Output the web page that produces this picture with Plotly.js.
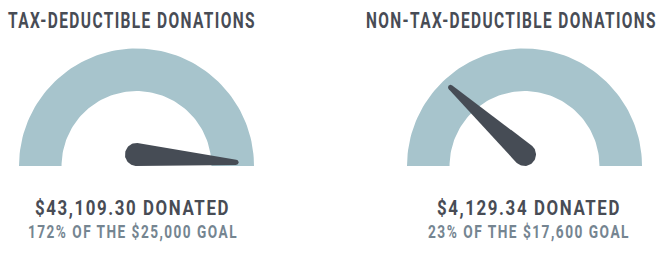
<!DOCTYPE html>
<html>
<head>
<meta charset="utf-8">
<script src="https://cdn.plot.ly/plotly-3.0.1.min.js"></script>
<style>
  html, body { margin: 0; padding: 0; background: #ffffff; }
  #chart { width: 663px; height: 253px; }
  .annotation-text { letter-spacing: 2px; }
</style>
</head>
<body>
<div id="chart"></div>
<script>
// ---- data ----
var gaugeTitles = ["TAX-DEDUCTIBLE DONATIONS", "NON-TAX-DEDUCTIBLE DONATIONS"];
var donated = [43109.30, 4129.34];
var goals = [25000, 17600];
var maxNeedleShare = 1.025; // needle stops just past the end of the dial

// ---- styling ----
var arcColor = "#a7c4cc";
var needleColor = "#464c55";
var titleColor = "#484c55";
var subColor = "#758591";
var FONT = "Roboto, 'DejaVu Sans', sans-serif";

var outerR = 1, innerR = 0.638;
var pivotY = 0.098, pivotR = 0.098, needleLen = 0.85, tipR = 0.022;

function fmtMoney(v, dec) {
  return "$" + v.toLocaleString("en-US", {minimumFractionDigits: dec, maximumFractionDigits: dec});
}

function arcTrace(xa, ya) {
  var xs = [], ys = [];
  var n = 90;
  for (var i = 0; i <= n; i++) {
    var a = Math.PI - Math.PI * i / n;
    xs.push(outerR * Math.cos(a)); ys.push(outerR * Math.sin(a));
  }
  for (var j = 0; j <= n; j++) {
    var b = Math.PI * j / n;
    xs.push(innerR * Math.cos(b)); ys.push(innerR * Math.sin(b));
  }
  return {x: xs, y: ys, xaxis: xa, yaxis: ya, type: "scatter", mode: "lines",
          fill: "toself", fillcolor: arcColor, line: {width: 0, color: arcColor},
          hoverinfo: "skip", showlegend: false};
}

function needleTrace(share, xa, ya) {
  var s = Math.min(share, maxNeedleShare);
  var th = Math.PI * (1 - s);
  var px = 0, py = pivotY;
  var tx = px + needleLen * Math.cos(th), ty = py + needleLen * Math.sin(th);
  var xs = [], ys = [];
  var n = 40;
  for (var i = 0; i <= n; i++) {
    var a = th + Math.PI / 2 + Math.PI * i / n;
    xs.push(px + pivotR * Math.cos(a)); ys.push(py + pivotR * Math.sin(a));
  }
  for (var k = 0; k <= n; k++) {
    var c = th - Math.PI / 2 + Math.PI * k / n;
    xs.push(tx + tipR * Math.cos(c)); ys.push(ty + tipR * Math.sin(c));
  }
  xs.push(xs[0]); ys.push(ys[0]);
  return {x: xs, y: ys, xaxis: xa, yaxis: ya, type: "scatter", mode: "lines",
          fill: "toself", fillcolor: needleColor, line: {width: 0, color: needleColor},
          hoverinfo: "skip", showlegend: false};
}

var shares = donated.map(function (d, i) { return d / goals[i]; });

var traces = [
  arcTrace("x", "y"), needleTrace(shares[0], "x", "y"),
  arcTrace("x2", "y2"), needleTrace(shares[1], "x2", "y2")
];

var scalePx = 117.5;
var W = 663, H = 253;
function axis(domain, centerPx) {
  var left = domain[0] * W, right = domain[1] * W;
  return {domain: domain, range: [(left - centerPx) / scalePx, (right - centerPx) / scalePx],
          visible: false, fixedrange: true};
}
var yRange = [-(H - 166) / scalePx, 166 / scalePx];

// text boxes: [centerPx, centerYpx, widthPx, size]
var titleBox = [[132, 20.5, 248, 22.5], [511.5, 20.5, 291, 22.5]];
var line1Box = [[132.5, 208, 195, 21], [529, 208, 184, 21]];
var line2Box = [[133, 231.8, 210, 18.5], [529, 231.8, 202, 18.5]];

var annotations = [];
var boxes = [];
function addAnn(text, box, color) {
  annotations.push({xref: "paper", yref: "paper", x: box[0] / W, xanchor: "center",
    y: 1 - box[1] / H, yanchor: "middle", showarrow: false, text: text,
    font: {family: FONT, size: box[3], color: color, weight: 700}});
  boxes.push(box);
}
for (var i = 0; i < 2; i++) {
  addAnn(gaugeTitles[i], titleBox[i], titleColor);
  addAnn(fmtMoney(donated[i], 2) + " DONATED", line1Box[i], titleColor);
  addAnn(Math.round(shares[i] * 100) + "% OF THE " + fmtMoney(goals[i], 0) + " GOAL", line2Box[i], subColor);
}

var xa1 = axis([0, 0.5], 136.5); xa1.anchor = "y";
var xa2 = axis([0.5, 1], 524.5); xa2.anchor = "y2";
var layout = {
  width: W, height: H,
  margin: {l: 0, r: 0, t: 0, b: 0},
  paper_bgcolor: "#ffffff", plot_bgcolor: "#ffffff",
  xaxis: xa1,
  yaxis: {domain: [0, 1], range: yRange, visible: false, fixedrange: true, anchor: "x"},
  xaxis2: xa2,
  yaxis2: {domain: [0, 1], range: yRange, visible: false, fixedrange: true, anchor: "x2"},
  annotations: annotations,
  showlegend: false
};

Plotly.newPlot("chart", traces, layout, {displayModeBar: false, staticPlot: true}).then(function (gd) {
  // condense the lettering to the narrow, spaced poster-style widths of the original
  var host = gd.getBoundingClientRect();
  var texts = gd.querySelectorAll(".annotation-text");
  texts.forEach(function (t) {
    var idx = +t.closest(".annotation").getAttribute("data-index");
    var b = boxes[idx];
    t.setAttribute("textLength", b[2]);
    t.setAttribute("lengthAdjust", "spacingAndGlyphs");
    var r = t.getBoundingClientRect();
    var cx = (r.left + r.right) / 2 - host.left;
    var dx = b[0] - cx;
    var x0 = parseFloat(t.getAttribute("x") || "0");
    t.setAttribute("x", x0 + dx);
  });
});
</script>
</body>
</html>
